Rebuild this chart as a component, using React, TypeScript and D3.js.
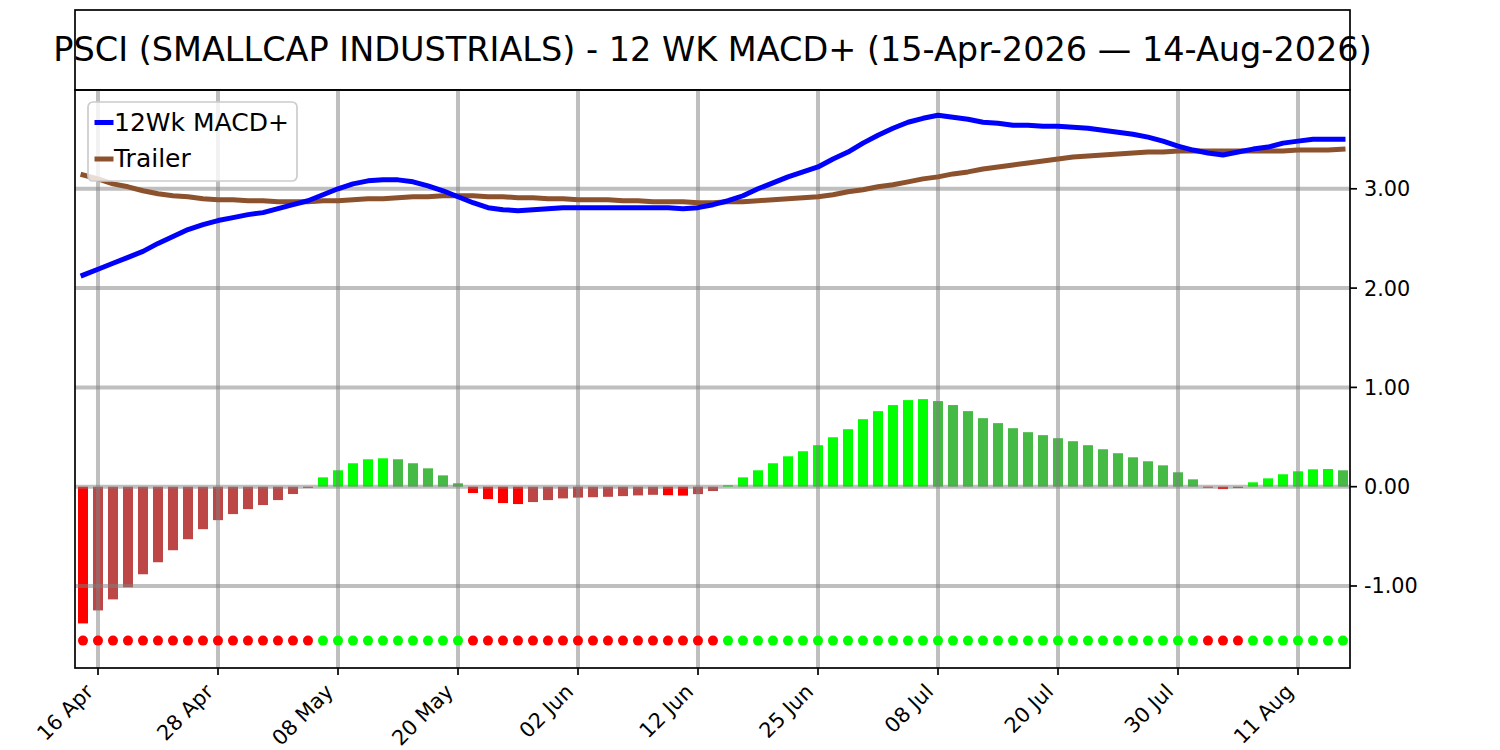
import React from 'react';
import * as d3 from 'd3';

// histogram values, one per trading day (15-Apr-2026 .. 14-Aug-2026)
const histValues: number[] = [
  -1.377, -1.246, -1.135, -1.013, -0.882, -0.761, -0.640, -0.529, -0.428, -0.337,
  -0.276, -0.226, -0.185, -0.135, -0.074, -0.012, 0.094, 0.165, 0.236, 0.276,
  0.286, 0.276, 0.236, 0.185, 0.114, 0.034, -0.064, -0.125, -0.165, -0.175,
  -0.155, -0.135, -0.118, -0.110, -0.106, -0.102, -0.095, -0.088, -0.082, -0.086,
  -0.090, -0.075, -0.044, 0.015, 0.094, 0.165, 0.236, 0.306, 0.357, 0.418,
  0.498, 0.579, 0.680, 0.761, 0.822, 0.872, 0.882, 0.862, 0.822, 0.761,
  0.690, 0.640, 0.589, 0.549, 0.519, 0.488, 0.458, 0.418, 0.377, 0.337,
  0.296, 0.256, 0.215, 0.145, 0.074, -0.010, -0.024, -0.013, 0.044, 0.084,
  0.125, 0.155, 0.175, 0.178, 0.165,
];

// 12Wk MACD+ line
const macdValues: number[] = [
  2.13, 2.19, 2.25, 2.31, 2.37, 2.45, 2.52, 2.59, 2.64, 2.68,
  2.71, 2.74, 2.76, 2.80, 2.84, 2.88, 2.94, 3.00, 3.05, 3.08,
  3.09, 3.09, 3.07, 3.03, 2.98, 2.92, 2.86, 2.81, 2.79, 2.78,
  2.79, 2.80, 2.81, 2.81, 2.81, 2.81, 2.81, 2.81, 2.81, 2.81,
  2.80, 2.81, 2.84, 2.88, 2.93, 3.00, 3.06, 3.12, 3.17, 3.22,
  3.30, 3.37, 3.46, 3.54, 3.61, 3.67, 3.71, 3.74, 3.72, 3.70,
  3.67, 3.66, 3.64, 3.64, 3.63, 3.63, 3.62, 3.61, 3.59, 3.57,
  3.55, 3.52, 3.48, 3.43, 3.39, 3.36, 3.34, 3.37, 3.40, 3.42,
  3.46, 3.48, 3.50, 3.50, 3.50,
];

// Trailer line
const trailerValues: number[] = [
  3.14, 3.10, 3.05, 3.02, 2.98, 2.95, 2.93, 2.92, 2.90, 2.89,
  2.89, 2.88, 2.88, 2.87, 2.87, 2.87, 2.88, 2.88, 2.89, 2.90,
  2.90, 2.91, 2.92, 2.92, 2.93, 2.93, 2.93, 2.92, 2.92, 2.91,
  2.91, 2.90, 2.90, 2.89, 2.89, 2.89, 2.88, 2.88, 2.87, 2.87,
  2.87, 2.86, 2.86, 2.87, 2.87, 2.88, 2.89, 2.90, 2.91, 2.92,
  2.94, 2.97, 2.99, 3.02, 3.04, 3.07, 3.10, 3.12, 3.15, 3.17,
  3.20, 3.22, 3.24, 3.26, 3.28, 3.30, 3.32, 3.33, 3.34, 3.35,
  3.36, 3.37, 3.37, 3.38, 3.38, 3.38, 3.38, 3.38, 3.38, 3.38,
  3.38, 3.39, 3.39, 3.39, 3.40,
];

const tickIndex: number[] = [1, 9, 17, 25, 33, 41, 49, 57, 65, 73, 81];
const tickLabels: string[] = [
  '16 Apr', '28 Apr', '08 May', '20 May', '02 Jun', '12 Jun',
  '25 Jun', '08 Jul', '20 Jul', '30 Jul', '11 Aug',
];
const yTicks: number[] = [-1, 0, 1, 2, 3];
const dotLevel = -1.55;

const title = 'PSCI (SMALLCAP INDUSTRIALS) - 12 WK MACD+ (15-Apr-2026 \u2014 14-Aug-2026)';

const FONT = '"DejaVu Sans", sans-serif';

const App = () => {
  const left = 75, right = 1350, top = 90, bottom = 668;

  const x = d3.scaleLinear().domain([-0.533, 84.467]).range([left, right]);
  const y = d3.scaleLinear().domain([-1.826, 3.995]).range([bottom, top]);
  const barW = x(0.667) - x(0);

  const line = d3.line<number>()
    .x((_, i) => x(i))
    .y(d => y(d));

  // bright colour while the bar grows away from zero, muted while it shrinks
  const barColor = (v: number, i: number) => {
    const prev = i > 0 ? histValues[i - 1] : 0;
    if (v >= 0) return v >= prev ? '#00ff00' : '#45ba45';
    return v <= prev ? '#ff0000' : '#bd4646';
  };

  return (
    <svg width={1500} height={750} style={{ position: 'absolute', left: 0, top: 0, background: '#fff' }}>
      <rect x={0} y={0} width={1500} height={750} fill="#fff" />

      {/* title box */}
      <rect x={left} y={10} width={right - left} height={80} fill="none" stroke="#000" strokeWidth={1.7} />
      <text x={(left + right) / 2} y={61} textAnchor="middle" fontFamily={FONT} fontSize={33.5} fill="#000">
        {title}
      </text>

      {/* histogram */}
      {histValues.map((v, i) => (
        <rect
          key={'b' + i}
          x={x(i) - barW / 2}
          y={Math.min(y(v), y(0))}
          width={barW}
          height={Math.abs(y(v) - y(0))}
          fill={barColor(v, i)}
        />
      ))}

      {/* grid */}
      <g stroke="#808080" strokeOpacity={0.5} strokeWidth={4}>
        {yTicks.map(t => (
          <line key={'gy' + t} x1={left} x2={right} y1={y(t)} y2={y(t)} />
        ))}
        {tickIndex.map(t => (
          <line key={'gx' + t} x1={x(t)} x2={x(t)} y1={top} y2={bottom} />
        ))}
      </g>

      {/* lines */}
      <path d={line(trailerValues) || ''} fill="none" stroke="#8c522d" strokeWidth={5} strokeLinecap="square" strokeLinejoin="round" />
      <path d={line(macdValues) || ''} fill="none" stroke="#0000ff" strokeWidth={5} strokeLinecap="square" strokeLinejoin="round" />

      {/* signal dots */}
      {histValues.map((v, i) => (
        <circle key={'d' + i} cx={x(i)} cy={y(dotLevel)} r={5} fill={v >= 0 ? '#00ff00' : '#ff0000'} />
      ))}

      {/* frame */}
      <rect x={left} y={top} width={right - left} height={bottom - top} fill="none" stroke="#000" strokeWidth={1.7} />

      {/* x axis */}
      {tickIndex.map((t, k) => (
        <g key={'xt' + t}>
          <line x1={x(t)} x2={x(t)} y1={bottom} y2={bottom + 7} stroke="#000" strokeWidth={1.7} />
          <text
            transform={`translate(${x(t) - 3.5},${bottom + 25}) rotate(-45)`}
            textAnchor="end"
            fontFamily={FONT}
            fontSize={20.8}
            fill="#000"
          >
            {tickLabels[k]}
          </text>
        </g>
      ))}

      {/* y axis on the right */}
      {yTicks.map(t => (
        <g key={'yt' + t}>
          <line x1={right} x2={right + 7} y1={y(t)} y2={y(t)} stroke="#000" strokeWidth={1.7} />
          <text x={right + 14} y={y(t)} dy="0.36em" fontFamily={FONT} fontSize={20.8} fill="#000">
            {t.toFixed(2)}
          </text>
        </g>
      ))}

      {/* legend */}
      <rect x={88} y={102} width={209} height={79} rx={5} fill="#fff" fillOpacity={0.8} stroke="#cccccc" strokeWidth={1.7} />
      <line x1={97} x2={111} y1={122.5} y2={122.5} stroke="#0000ff" strokeWidth={5} strokeLinecap="square" />
      <text x={114} y={131} fontFamily={FONT} fontSize={25} fill="#000">12Wk MACD+</text>
      <line x1={97} x2={111} y1={159} y2={159} stroke="#8c522d" strokeWidth={5} strokeLinecap="square" />
      <text x={114} y={167} fontFamily={FONT} fontSize={25} fill="#000">Trailer</text>
    </svg>
  );
};

export default App;
